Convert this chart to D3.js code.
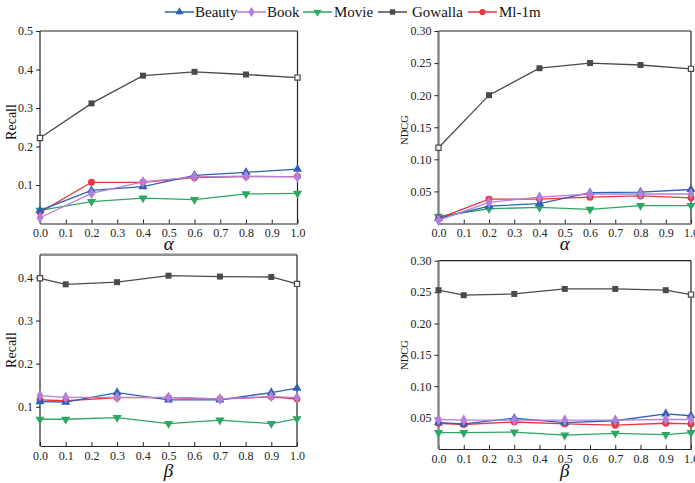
<!DOCTYPE html>
<html>
<head>
<meta charset="utf-8">
<script src="https://cdn.jsdelivr.net/npm/d3@7"></script>
<style>
  html, body { margin: 0; padding: 0; background: #fff; }
  svg { display: block; font-family: "Liberation Serif", "DejaVu Serif", serif; }
</style>
</head>
<body>
<svg id="chart" width="695" height="483"></svg>
<script>
// Series (legend order)
const seriesNames = ["Beauty", "Book", "Movie", "Gowalla", "Ml-1m"];

// Parameter values on the x axes
const alphaValues = [0.0, 0.2, 0.4, 0.6, 0.8, 1.0];
const betaValues = [0.0, 0.1, 0.3, 0.5, 0.7, 0.9, 1.0];
const xTickValues = [0.0, 0.1, 0.2, 0.3, 0.4, 0.5, 0.6, 0.7, 0.8, 0.9, 1.0];

// Recall vs alpha, one row per series in legend order
const recallAlpha = [
  [0.034, 0.086, 0.096, 0.125, 0.133, 0.141],
  [0.015, 0.078, 0.108, 0.121, 0.123, 0.121],
  [0.034, 0.057, 0.066, 0.062, 0.077, 0.078],
  [0.222, 0.312, 0.384, 0.394, 0.387, 0.379],
  [0.029, 0.107, 0.107, 0.119, 0.122, 0.122]
];

// NDCG vs alpha
const ndcgAlpha = [
  [0.008, 0.027, 0.031, 0.048, 0.049, 0.053],
  [0.005, 0.033, 0.041, 0.046, 0.046, 0.046],
  [0.011, 0.023, 0.025, 0.022, 0.028, 0.028],
  [0.118, 0.200, 0.242, 0.250, 0.247, 0.241],
  [0.008, 0.038, 0.038, 0.041, 0.043, 0.040]
];

// Recall vs beta
const recallBeta = [
  [0.112, 0.111, 0.133, 0.116, 0.116, 0.133, 0.143],
  [0.126, 0.122, 0.122, 0.122, 0.118, 0.124, 0.121],
  [0.071, 0.071, 0.075, 0.061, 0.069, 0.061, 0.072],
  [0.398, 0.384, 0.389, 0.404, 0.402, 0.401, 0.385],
  [0.116, 0.114, 0.121, 0.121, 0.118, 0.123, 0.118]
];

// NDCG vs beta
const ndcgBeta = [
  [0.042, 0.040, 0.049, 0.042, 0.045, 0.056, 0.053],
  [0.047, 0.046, 0.046, 0.046, 0.046, 0.047, 0.047],
  [0.026, 0.026, 0.027, 0.022, 0.025, 0.023, 0.026],
  [0.253, 0.245, 0.247, 0.255, 0.255, 0.253, 0.246],
  [0.041, 0.039, 0.043, 0.040, 0.038, 0.041, 0.040]
];

// Y tick values per panel
const recallAlphaTicks = [0.1, 0.2, 0.3, 0.4, 0.5];
const ndcgTicks = [0.05, 0.10, 0.15, 0.20, 0.25, 0.30];
const recallBetaTicks = [0.1, 0.2, 0.3, 0.4];

// Styling
const colors = {
  "Beauty": "#2f60b4",
  "Book": "#b37fdb",
  "Movie": "#2ea762",
  "Gowalla": "#4a4a4a",
  "Ml-1m": "#e8363c"
};
const symbols = {
  "Beauty": { type: d3.symbolTriangle, size: 36, rot: 0 },
  "Book": { type: d3.symbolDiamond, size: 40, rot: 0 },
  "Movie": { type: d3.symbolTriangle, size: 36, rot: 180 },
  "Gowalla": { type: d3.symbolSquare, size: 36, rot: 0 },
  "Ml-1m": { type: d3.symbolCircle, size: 38, rot: 0 }
};
const drawOrder = ["Gowalla", "Movie", "Ml-1m", "Beauty", "Book"];

const svg = d3.select("#chart");

function drawPanel(cfg) {
  const g = svg.append("g");
  const x = d3.scaleLinear().domain([0, 1]).range([cfg.left, cfg.right]);
  const y = d3.scaleLinear().domain(cfg.yDomain).range([cfg.bottom, cfg.top]);

  // frame: top and right borders
  g.append("line").attr("x1", cfg.left).attr("x2", cfg.right)
    .attr("y1", cfg.top).attr("y2", cfg.top)
    .attr("stroke", "#222").attr("stroke-width", 1.2);
  g.append("line").attr("x1", cfg.right).attr("x2", cfg.right)
    .attr("y1", cfg.top).attr("y2", cfg.bottom)
    .attr("stroke", "#222").attr("stroke-width", 1.2);

  // x axis, ticks pointing inward
  const xAxis = d3.axisBottom(x).tickValues(xTickValues)
    .tickFormat(d3.format(".1f")).tickSizeInner(-4).tickSizeOuter(0).tickPadding(5);
  const gx = g.append("g").attr("transform", `translate(0,${cfg.bottom})`).call(xAxis);
  gx.select(".domain").attr("stroke", "#222").attr("stroke-width", 1.2);
  gx.selectAll(".tick line").attr("stroke", "#222");
  gx.selectAll(".tick text").attr("font-size", 12).attr("fill", "#222")
    .attr("font-family", "Liberation Serif, serif");

  // y axis, ticks pointing outward
  const yAxis = d3.axisLeft(y).tickValues(cfg.yTicks)
    .tickFormat(d3.format(cfg.yFormat)).tickSizeInner(4).tickSizeOuter(0).tickPadding(3);
  const gy = g.append("g").attr("transform", `translate(${cfg.left},0)`).call(yAxis);
  gy.select(".domain").attr("stroke", cfg.yAxisColor).attr("stroke-width", cfg.yAxisWidth)
    .attr("d", `M0,${cfg.top}V${cfg.bottom}`);
  gy.selectAll(".tick line").attr("stroke", "#222");
  gy.selectAll(".tick text").attr("font-size", 12).attr("fill", "#222")
    .attr("font-family", "Liberation Serif, serif");

  // axis titles
  g.append("text")
    .attr("transform", `translate(${cfg.yTitleX},${cfg.yTitleY}) rotate(-90)`)
    .attr("text-anchor", "middle").attr("font-size", cfg.yTitleSize).attr("fill", "#111")
    .text(cfg.yTitle);
  g.append("text")
    .attr("x", (cfg.left + cfg.right) / 2).attr("y", cfg.xTitleY)
    .attr("text-anchor", "middle").attr("font-size", 19).attr("font-style", "italic")
    .attr("fill", "#111")
    .text(cfg.xTitle);

  // series
  const line = d3.line().x(d => x(d[0])).y(d => y(d[1]));
  drawOrder.forEach(name => {
    const i = seriesNames.indexOf(name);
    const pts = cfg.xs.map((xv, k) => [xv, cfg.values[i][k]]);
    g.append("path").datum(pts)
      .attr("d", line).attr("fill", "none")
      .attr("stroke", colors[name]).attr("stroke-width", 1.3);
    const s = symbols[name];
    const last = pts.length - 1;
    // Gowalla end markers sit on the frame and are drawn open
    const isOpen = k => name === "Gowalla" && (k === last || (k === 0 && cfg.openFirst));
    g.selectAll(null).data(pts).enter().append("path")
      .attr("d", (d, k) => d3.symbol().type(s.type).size(isOpen(k) ? s.size * 0.75 : s.size)())
      .attr("transform", d => `translate(${x(d[0])},${y(d[1])}) rotate(${s.rot})`)
      .attr("fill", (d, k) => isOpen(k) ? "#f4f4f4" : colors[name])
      .attr("stroke", (d, k) => isOpen(k) ? colors[name] : "none")
      .attr("stroke-width", 1.2);
  });
}

drawPanel({
  left: 40, right: 297.5, top: 31, bottom: 223.5,
  yDomain: [0, 0.5], yTicks: recallAlphaTicks, yFormat: ".1f",
  xs: alphaValues, values: recallAlpha,
  yAxisColor: "#222", yAxisWidth: 1.2,
  yTitle: "Recall", yTitleX: 16, yTitleY: 122, yTitleSize: 14,
  xTitle: "α", xTitleY: 250, openFirst: true
});

drawPanel({
  left: 438.5, right: 691, top: 31, bottom: 223.5,
  yDomain: [0, 0.3], yTicks: ndcgTicks, yFormat: ".2f",
  xs: alphaValues, values: ndcgAlpha,
  yAxisColor: "#7a7a7a", yAxisWidth: 2.2,
  yTitle: "NDCG", yTitleX: 408, yTitleY: 130, yTitleSize: 10.5,
  xTitle: "α", xTitleY: 250, openFirst: true
});

drawPanel({
  left: 40, right: 297, top: 255, bottom: 446,
  yDomain: [0.009, 0.452], yTicks: recallBetaTicks, yFormat: ".1f",
  xs: betaValues, values: recallBeta,
  yAxisColor: "#222", yAxisWidth: 1.2,
  yTitle: "Recall", yTitleX: 16, yTitleY: 350, yTitleSize: 14,
  xTitle: "β", xTitleY: 477, openFirst: true
});

drawPanel({
  left: 438.5, right: 691, top: 260.7, bottom: 449,
  yDomain: [0, 0.3], yTicks: ndcgTicks, yFormat: ".2f",
  xs: betaValues, values: ndcgBeta,
  yAxisColor: "#7a7a7a", yAxisWidth: 2.2,
  yTitle: "NDCG", yTitleX: 408, yTitleY: 355, yTitleSize: 10.5,
  xTitle: "β", xTitleY: 477, openFirst: false
});

// thin rule under the top-left panel
svg.append("line").attr("x1", 40).attr("x2", 297).attr("y1", 253.5).attr("y2", 253.5)
  .attr("stroke", "#c4c4c4").attr("stroke-width", 1);

// legend
const legendStarts = [165, 237, 303, 378, 468];
const legendTextGap = [1, 1, 2, 5, 2];
const legend = svg.append("g");
seriesNames.forEach((name, i) => {
  const x0 = legendStarts[i];
  const lg = legend.append("g");
  lg.append("line").attr("x1", x0).attr("x2", x0 + 29).attr("y1", 12).attr("y2", 12)
    .attr("stroke", colors[name]).attr("stroke-width", 1.5);
  const s = symbols[name];
  lg.append("path").attr("d", d3.symbol().type(s.type).size(s.size * 0.8))
    .attr("transform", `translate(${x0 + 14.5},12) rotate(${s.rot})`)
    .attr("fill", colors[name]);
  lg.append("text").attr("x", x0 + 29 + legendTextGap[i]).attr("y", 17)
    .attr("font-size", 15).attr("fill", "#111").text(name);
});
</script>
</body>
</html>
